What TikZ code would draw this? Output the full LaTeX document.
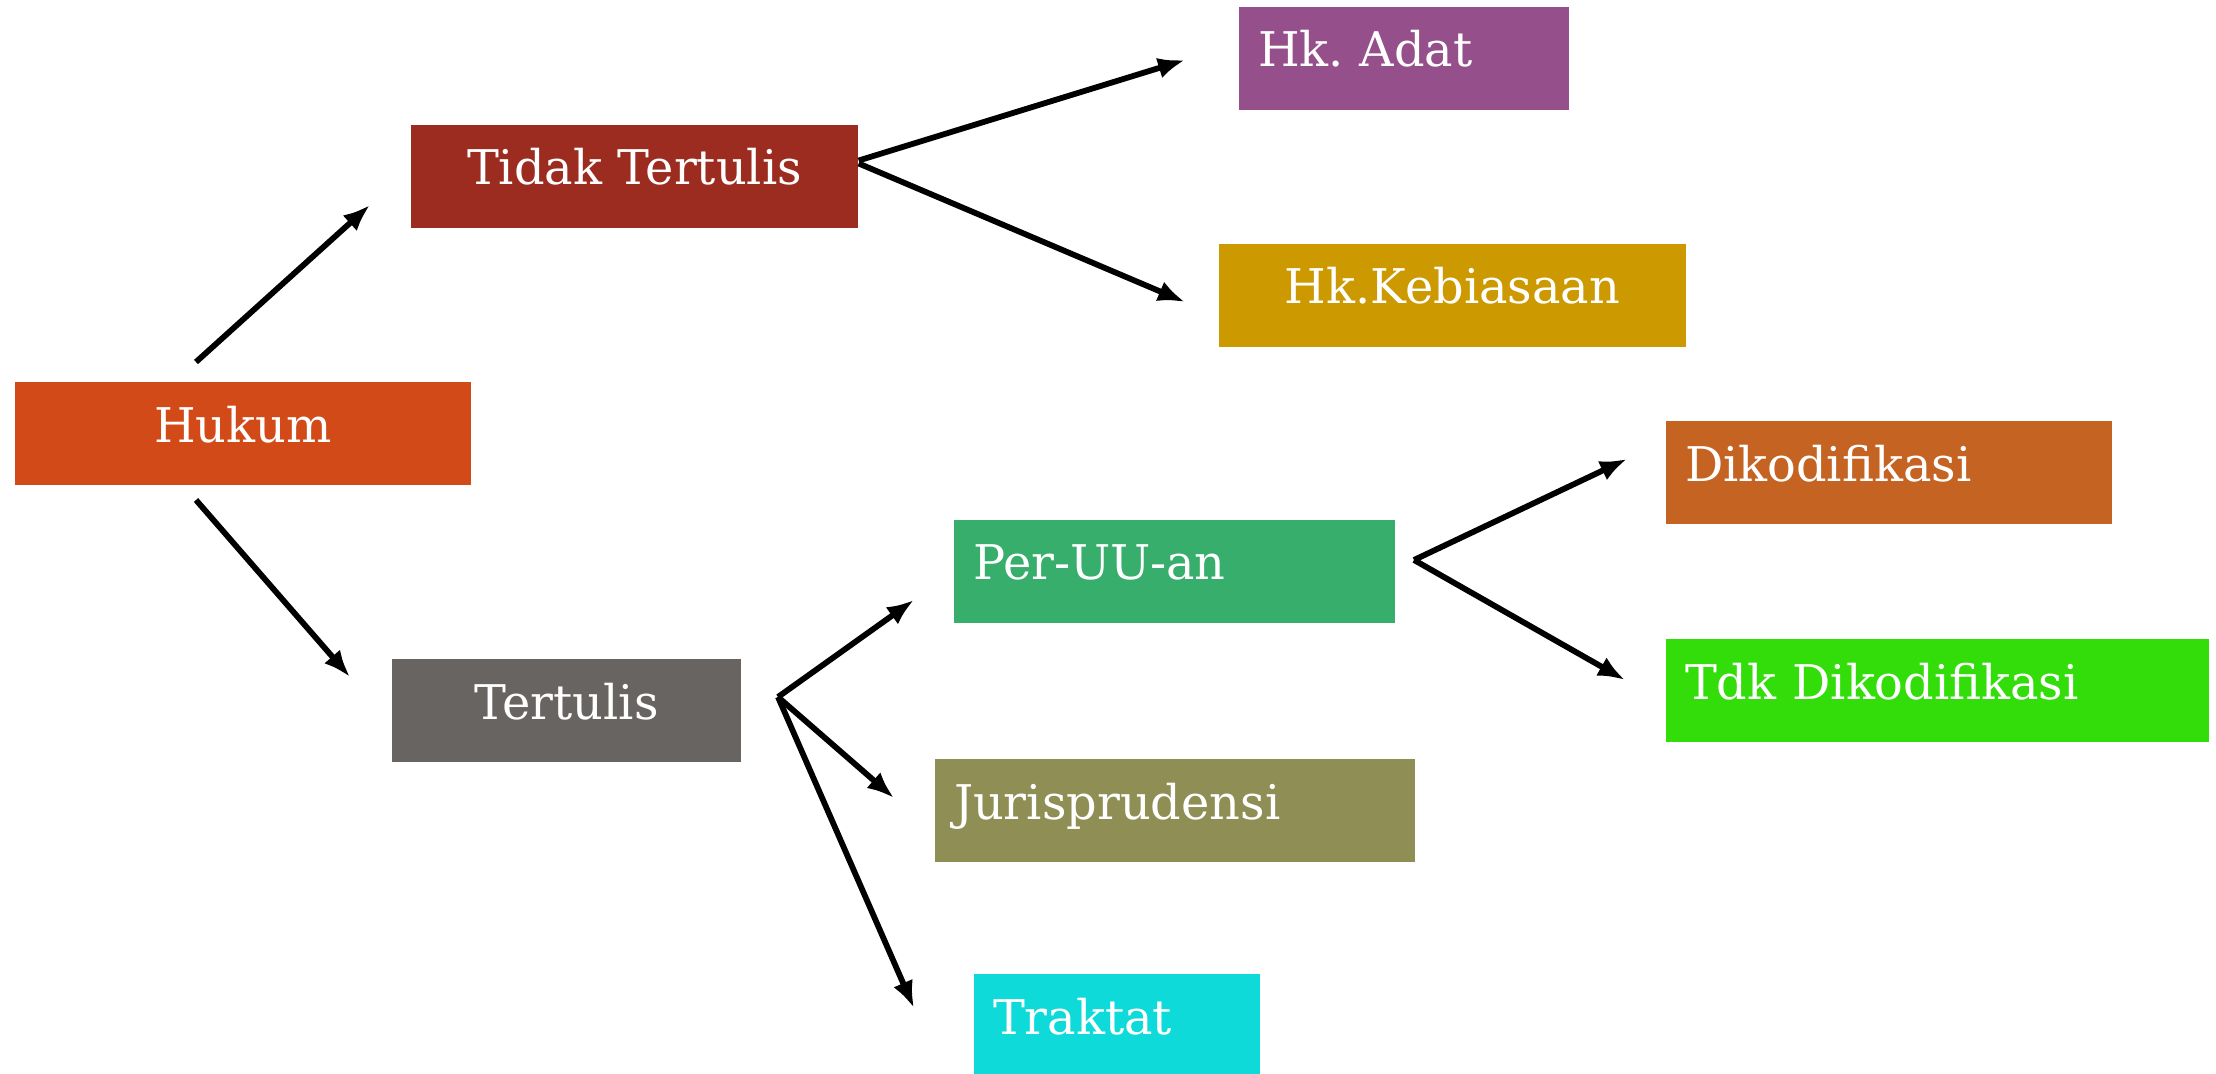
\documentclass[tikz,border=0pt]{standalone}
\usepackage{fontspec}
\setmainfont{DejaVu Serif}
\usetikzlibrary{arrows.meta}
\frenchspacing

\definecolor{cHukum}{HTML}{D24A18}
\definecolor{cTidak}{HTML}{9C2C20}
\definecolor{cAdat}{HTML}{954F8A}
\definecolor{cBiasa}{HTML}{CC9900}
\definecolor{cTulis}{HTML}{686462}
\definecolor{cUU}{HTML}{37AE6B}
\definecolor{cJuris}{HTML}{8F8E55}
\definecolor{cTrak}{HTML}{0EDADA}
\definecolor{cKod}{HTML}{C46322}
\definecolor{cTdk}{HTML}{33DD0A}

\begin{document}
\begin{tikzpicture}[
	box/.style={fill=#1, text=white, shape=rectangle, minimum height=1.03cm, inner sep=0pt,
		text height=0.35cm, text depth=0.18cm, font=\fontsize{13.6}{16}\selectfont},
	lbox/.style={box=#1, align=left, inner xsep=0.19cm},
	arr/.style={-{Latex[length=0.27cm,width=0.21cm]}, line width=1.65pt}
	]
	\useasboundingbox (0,0) rectangle (22.16,10.73);

	\node[box=cHukum, minimum width=4.56cm] (hukum) at (2.43,6.395) {Hukum};
	\node[box=cTidak, minimum width=4.47cm] (tidak) at (6.345,8.965) {Tidak Tertulis};
	\node[lbox=cAdat, text width=2.92cm] (adat) at (14.04,10.145) {Hk. Adat};
	\node[box=cBiasa, minimum width=4.67cm] (biasa) at (14.525,7.775) {Hk.Kebiasaan};
	\node[box=cTulis, minimum width=3.49cm] (tulis) at (5.665,3.625) {Tertulis};
	\node[lbox=cUU, text width=4.03cm] (uu) at (11.745,5.015) {Per-UU-an};
	\node[lbox=cJuris, text width=4.42cm] (juris) at (11.75,2.625) {Jurisprudensi};
	\node[lbox=cTrak, text width=2.48cm] (traktat) at (11.17,0.475) {Traktat};
	\node[lbox=cKod, text width=4.08cm] (kodif) at (18.89,6.00) {Dikodifikasi};
	\node[lbox=cTdk, text width=5.05cm] (tdk) at (19.375,3.825) {Tdk Dikodifikasi};

	% free ends of the arrows
	\coordinate (hk_up) at (1.96,7.11);
	\coordinate (hk_dn) at (1.96,5.73);
	\coordinate (tidak_in) at (3.70,8.68);
	\coordinate (tulis_in) at (3.50,3.96);
	\coordinate (adat_in) at (11.85,10.13);
	\coordinate (biasa_in) at (11.85,7.71);
	\coordinate (t_fork) at (7.78,3.76);
	\coordinate (uu_in) at (9.14,4.73);
	\coordinate (juris_in) at (8.94,2.75);
	\coordinate (trak_in) at (9.14,0.65);
	\coordinate (p_fork) at (14.14,5.13);
	\coordinate (kod_in) at (16.27,6.14);
	\coordinate (tdk_in) at (16.25,3.93);

	\draw[arr] (hk_up) -- (tidak_in);
	\draw[arr] (hk_dn) -- (tulis_in);
	\draw[arr] ([yshift=0.16cm]tidak.east) -- (adat_in);
	\draw[arr] ([yshift=0.13cm]tidak.east) -- (biasa_in);
	\draw[arr] (t_fork) -- (uu_in);
	\draw[arr] (t_fork) -- (juris_in);
	\draw[arr] (t_fork) -- (trak_in);
	\draw[arr] (p_fork) -- (kod_in);
	\draw[arr] (p_fork) -- (tdk_in);
\end{tikzpicture}
\end{document}
